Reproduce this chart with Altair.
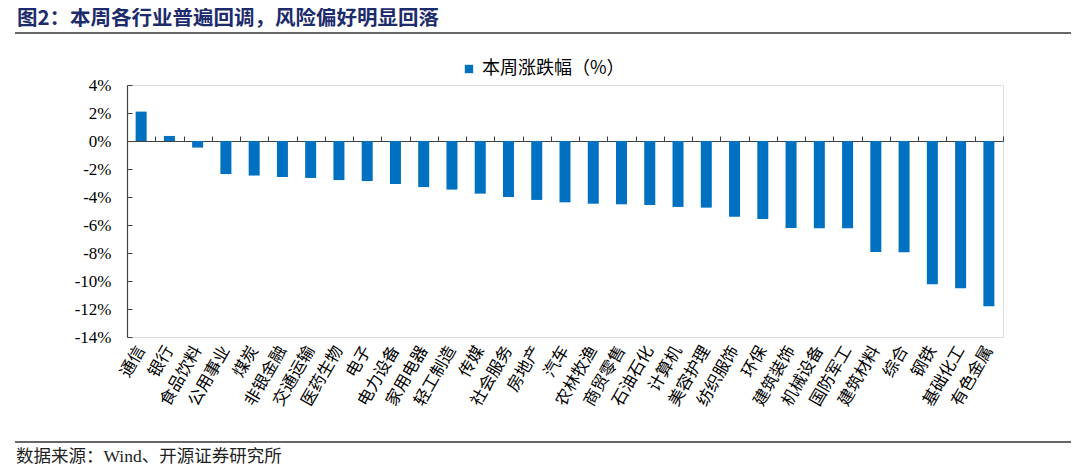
import altair as alt
import pandas as pd

categories = ["通信", "银行", "食品饮料", "公用事业", "煤炭", "非银金融", "交通运输", "医药生物",
              "电子", "电力设备", "家用电器", "轻工制造", "传媒", "社会服务", "房地产", "汽车",
              "农林牧渔", "商贸零售", "石油石化", "计算机", "美容护理", "纺织服饰", "环保",
              "建筑装饰", "机械设备", "国防军工", "建筑材料", "综合", "钢铁", "基础化工", "有色金属"]
values = [2.10, 0.36, -0.47, -2.36, -2.47, -2.57, -2.64, -2.79, -2.86, -3.07, -3.29, -3.47,
          -3.76, -4.00, -4.21, -4.38, -4.48, -4.52, -4.57, -4.71, -4.76, -5.41, -5.57,
          -6.21, -6.24, -6.24, -7.93, -7.95, -10.24, -10.52, -11.80]
series_name = "本周涨跌幅（%）"
y_ticks = [-14, -12, -10, -8, -6, -4, -2, 0, 2, 4]
title_text = "图2：本周各行业普遍回调，风险偏好明显回落"
source_text = "数据来源：Wind、开源证券研究所"

df = pd.DataFrame({"cat": categories, "val": values, "series": [series_name] * len(categories)})
one = pd.DataFrame({"a": [0]})

W, H = 876, 252
AXIS_COLOR = "#404040"
SERIF = "'Liberation Serif', 'Noto Sans CJK SC'"
CJK = "'Noto Sans CJK SC'"

xscale = alt.Scale(paddingInner=0, paddingOuter=0)
yscale = alt.Scale(domain=[-14, 4], nice=False, zero=False)

bars = alt.Chart(df).mark_bar(size=11).encode(
    x=alt.X("cat:N", sort=categories, scale=xscale, title=None,
            axis=alt.Axis(orient="bottom", domain=False, ticks=False, tickSize=0,
                          labelAngle=-60, labelAlign="right", labelBaseline="middle",
                          labelPadding=10, labelFont=CJK, labelFontSize=16.5,
                          labelColor="#000000", labelOverlap=False, labelLimit=0)),
    y=alt.Y("val:Q", scale=yscale, title=None,
            axis=alt.Axis(orient="left", values=y_ticks, labelExpr="datum.value + '%'",
                          domain=True, domainColor=AXIS_COLOR, domainWidth=1.2,
                          ticks=False, tickSize=0, labelPadding=16, grid=False,
                          labelFont=SERIF, labelFontSize=17, labelColor="#000000")),
    color=alt.Color("series:N", scale=alt.Scale(range=["#0070C0"]),
                    legend=alt.Legend(title=None, orient="none", legendX=333, legendY=-25,
                                      symbolType="square", symbolSize=70, symbolStrokeWidth=0,
                                      labelFont=CJK, labelFontSize=18, labelColor="#000000",
                                      labelOffset=4)),
)

axes_layer = alt.Chart(df).mark_bar(opacity=0, size=1).encode(
    x=alt.X("cat:N", sort=categories, scale=xscale, title=None,
            axis=alt.Axis(orient="top", offset=-56, labels=False, domain=True,
                          domainColor=AXIS_COLOR, domainWidth=1.2, ticks=True,
                          tickBand="extent", tickSize=5, tickColor=AXIS_COLOR, grid=False)),
    y=alt.Y("val:Q", scale=yscale, title=None,
            axis=alt.Axis(orient="right", offset=-W, values=y_ticks, labels=False,
                          domain=False, ticks=True, tickSize=5, tickColor=AXIS_COLOR, grid=False)),
)

title_mark = alt.Chart(one).mark_text(align="left", baseline="middle", fontSize=20.5,
                                      fontWeight="bold", color="#1c2b6b", font=CJK).encode(
    x=alt.value(-110), y=alt.value(-66), text=alt.value(title_text))

top_rule = alt.Chart(one).mark_rule(color="#666666", strokeWidth=2).encode(
    x=alt.value(-112), x2=alt.value(944), y=alt.value(-52))

bottom_rule = alt.Chart(one).mark_rule(color="#666666", strokeWidth=2).encode(
    x=alt.value(-112), x2=alt.value(944), y=alt.value(357))

source_mark = alt.Chart(one).mark_text(align="left", baseline="middle", fontSize=17.5,
                                       color="#222222", font=SERIF).encode(
    x=alt.value(-111), y=alt.value(372), text=alt.value(source_text))

chart = alt.layer(bars, axes_layer, title_mark, top_rule, bottom_rule, source_mark).resolve_axis(
    x="independent", y="independent"
).properties(
    width=W, height=H,
    autosize=alt.AutoSizeParams(type="none"),
    padding={"left": 119, "top": 77, "right": 69, "bottom": 129},
).configure_view(stroke=None).configure(background="white")

chart.save("out.html", embed_options={"renderer": "svg", "actions": False})
